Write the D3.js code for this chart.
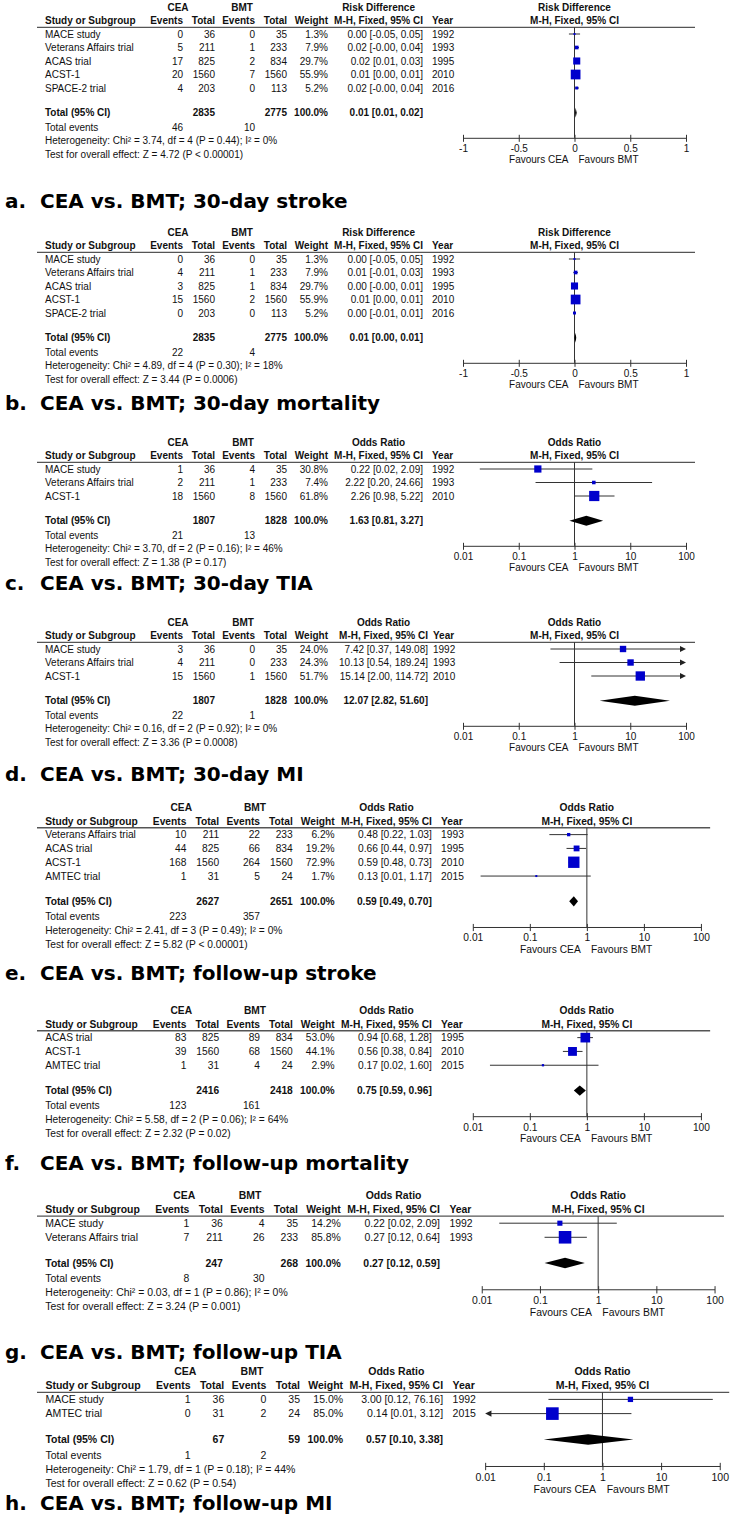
<!DOCTYPE html>
<html><head><meta charset="utf-8">
<script src="https://cdn.jsdelivr.net/npm/d3@7/dist/d3.min.js"></script>
<style>
html,body{margin:0;padding:0;background:#fff;}
svg{display:block;}
</style></head><body>
<svg id="chart" width="736" height="1533"></svg>
<script>
// ---------------- DATA ----------------
const panelLetters = ["a.","b.","c.","d.","e.","f.","g.","h."];
const panelTitles = ["CEA vs. BMT; 30-day stroke","CEA vs. BMT; 30-day mortality","CEA vs. BMT; 30-day TIA","CEA vs. BMT; 30-day MI","CEA vs. BMT; follow-up stroke","CEA vs. BMT; follow-up mortality","CEA vs. BMT; follow-up TIA","CEA vs. BMT; follow-up MI"];
const measures = ["Risk Difference","Risk Difference","Odds Ratio","Odds Ratio","Odds Ratio","Odds Ratio","Odds Ratio","Odds Ratio"];
const rdTicks = [-1,-0.5,0,0.5,1];
const orTicks = [0.01,0.1,1,10,100];

// rows: study, CEA events, CEA total, BMT events, BMT total, weight %, estimate, lower, upper, year
const studiesA = [
  ["MACE study",0,36,0,35,1.3,0.00,-0.05,0.05,1992],
  ["Veterans Affairs trial",5,211,1,233,7.9,0.02,-0.002,0.04,1993],
  ["ACAS trial",17,825,2,834,29.7,0.02,0.01,0.03,1995],
  ["ACST-1",20,1560,7,1560,55.9,0.01,0.00,0.01,2010],
  ["SPACE-2 trial",4,203,0,113,5.2,0.02,-0.002,0.04,2016]
];
const studiesB = [
  ["MACE study",0,36,0,35,1.3,0.00,-0.05,0.05,1992],
  ["Veterans Affairs trial",4,211,1,233,7.9,0.01,-0.01,0.03,1993],
  ["ACAS trial",3,825,1,834,29.7,0.00,-0.002,0.01,1995],
  ["ACST-1",15,1560,2,1560,55.9,0.01,0.00,0.01,2010],
  ["SPACE-2 trial",0,203,0,113,5.2,0.00,-0.01,0.01,2016]
];
const studiesC = [
  ["MACE study",1,36,4,35,30.8,0.22,0.02,2.09,1992],
  ["Veterans Affairs trial",2,211,1,233,7.4,2.22,0.20,24.66,1993],
  ["ACST-1",18,1560,8,1560,61.8,2.26,0.98,5.22,2010]
];
const studiesD = [
  ["MACE study",3,36,0,35,24.0,7.42,0.37,149.08,1992],
  ["Veterans Affairs trial",4,211,0,233,24.3,10.13,0.54,189.24,1993],
  ["ACST-1",15,1560,1,1560,51.7,15.14,2.00,114.72,2010]
];
const studiesE = [
  ["Veterans Affairs trial",10,211,22,233,6.2,0.48,0.22,1.03,1993],
  ["ACAS trial",44,825,66,834,19.2,0.66,0.44,0.97,1995],
  ["ACST-1",168,1560,264,1560,72.9,0.59,0.48,0.73,2010],
  ["AMTEC trial",1,31,5,24,1.7,0.13,0.0137,1.17,2015]
];
const studiesF = [
  ["ACAS trial",83,825,89,834,53.0,0.94,0.68,1.28,1995],
  ["ACST-1",39,1560,68,1560,44.1,0.56,0.38,0.84,2010],
  ["AMTEC trial",1,31,4,24,2.9,0.17,0.02,1.60,2015]
];
const studiesG = [
  ["MACE study",1,36,4,35,14.2,0.22,0.02,2.09,1992],
  ["Veterans Affairs trial",7,211,26,233,85.8,0.27,0.12,0.64,1993]
];
const studiesH = [
  ["MACE study",1,36,0,35,15.0,3.00,0.12,76.16,1992],
  ["AMTEC trial",0,31,2,24,85.0,0.14,0.0066,3.12,2015]
];
const totalCeaN = [2835,2835,1807,1807,2627,2416,247,67];
const totalBmtN = [2775,2775,1828,1828,2651,2418,268,59];
const totalEst  = [0.01,0.01,1.63,12.07,0.59,0.75,0.27,0.57];
const totalLo   = [0.01,0.00,0.81,2.82,0.49,0.59,0.12,0.10];
const totalHi   = [0.02,0.01,3.27,51.60,0.70,0.96,0.59,3.38];
const totalCeaEv = [46,22,21,22,223,123,8,1];
const totalBmtEv = [10,4,13,1,357,161,30,2];
const hetChi = ["3.74","4.89","3.70","0.16","2.41","5.58","0.03","1.79"];
const hetDf  = [4,4,2,2,3,2,1,1];
const hetP   = ["0.44","0.30","0.16","0.92","0.49","0.06","0.86","0.18"];
const hetI2  = [0,18,46,0,0,64,0,44];
const zVal   = ["4.72","3.44","1.38","3.36","5.82","2.32","3.24","0.62"];
const zP     = ["< 0.00001","= 0.0006","= 0.17","= 0.0008","< 0.00001","= 0.02","= 0.001","= 0.54"];

const allStudies = [studiesA,studiesB,studiesC,studiesD,studiesE,studiesF,studiesG,studiesH];

// ---------------- LAYOUT ----------------
const layout = [
  {hy:7,    s:1,     ci:423, yr:432, bmtC:242, ty:208},
  {hy:232,  s:1,     ci:423, yr:432, bmtC:242, ty:410},
  {hy:442,  s:1,     ci:423, yr:432, bmtC:243, ty:590},
  {hy:622,  s:1,     ci:428, yr:433, bmtC:243, ty:781},
  {hy:807,  s:1.023, ci:423, yr:432, bmtC:255, ty:980},
  {hy:1010, s:1.023, ci:423, yr:432, bmtC:255, ty:1170},
  {hy:1195, s:1.044, ci:423, yr:432, bmtC:250, ty:1359},
  {hy:1371, s:1.052, ci:423, yr:432, bmtC:252, ty:1510}
];
const FONT = "'Liberation Sans', Arial, sans-serif";
const svg = d3.select("#chart");
svg.append("rect").attr("width",736).attr("height",1533).attr("fill","#fff");

function drawPanel(k){
  const L = layout[k], s = L.s, rows = allStudies[k];
  const X = v => 37 + s*(v-37);
  const Y = v => L.hy + s*v;
  const g = svg.append("g");
  const fs = 10*s;
  function t(x,y,str,anchor,bold){
    return g.append("text").attr("x",x).attr("y",y).attr("dy","0.36em")
      .attr("text-anchor",anchor||"start").attr("font-family",FONT)
      .attr("font-size",fs).attr("font-weight",bold?"bold":"normal")
      .attr("fill","#111").text(str);
  }
  const f2 = v => v.toFixed(2);
  // headers
  t(X(178),Y(0),"CEA","middle",true);
  t(L.bmtC,Y(0),"BMT","middle",true);
  const h2 = 13.7;
  t(X(45),Y(h2),"Study or Subgroup","start",true);
  t(X(183),Y(h2),"Events","end",true);
  t(X(215),Y(h2),"Total","end",true);
  t(X(255),Y(h2),"Events","end",true);
  t(X(287),Y(h2),"Total","end",true);
  t(X(328),Y(h2),"Weight","end",true);
  const mh = t(X(L.ci),Y(h2),"M-H, Fixed, 95% CI","end",true);
  const mhW = mh.node().getComputedTextLength();
  t(X(L.ci)-mhW/2,Y(0),measures[k],"middle",true);
  t(X(L.yr),Y(h2),"Year","start",true);

  const px0 = X(463), px1 = X(686);
  const isOR = measures[k] === "Odds Ratio";
  const sc = isOR ? d3.scaleLog().domain([0.01,100]).range([px0,px1])
                  : d3.scaleLinear().domain([-1,1]).range([px0,px1]);
  const [dmin,dmax] = sc.domain();
  const pc = sc(isOR ? 1 : 0);
  t(pc,Y(0),measures[k],"middle",true);
  t(pc,Y(h2),"M-H, Fixed, 95% CI","middle",true);

  g.append("line").attr("x1",X(37)).attr("x2",X(695)).attr("y1",Y(20.3)).attr("y2",Y(20.3))
    .attr("stroke","#555").attr("stroke-width",1.3);

  const n = rows.length;
  const yT = Y(27 + 13.5*(n-1) + 24.7);
  const yE = yT + 14.6*s;
  const yH = yE + 13.5*s;
  const yZ = yH + 13.5*s;
  const yA = yH - 3*s;

  // null line
  g.append("line").attr("x1",pc).attr("x2",pc).attr("y1",Y(20.3)).attr("y2",yA)
    .attr("stroke","#333").attr("stroke-width",1);

  rows.forEach((r,i) => {
    const y = Y(27 + 13.5*i);
    t(X(45),y,r[0]);
    t(X(183),y,r[1],"end");
    t(X(215),y,r[2],"end");
    t(X(255),y,r[3],"end");
    t(X(287),y,r[4],"end");
    t(X(328),y,r[5].toFixed(1)+"%","end");
    t(X(L.ci),y,`${f2(r[6])} [${f2(r[7])}, ${f2(r[8])}]`,"end");
    t(X(L.yr),y,r[9]);
    const xl = sc(Math.max(r[7],dmin)), xr = sc(Math.min(r[8],dmax));
    const aL = r[7] < dmin, aR = r[8] > dmax;
    g.append("line").attr("x1",aL?xl+5*s:xl).attr("x2",aR?xr-5*s:xr).attr("y1",y).attr("y2",y)
      .attr("stroke","#333").attr("stroke-width",1);
    if (aR) g.append("path").attr("d",`M${xr},${y}L${xr-6*s},${y-3*s}L${xr-6*s},${y+3*s}Z`).attr("fill","#222");
    if (aL) g.append("path").attr("d",`M${xl},${y}L${xl+6*s},${y-3*s}L${xl+6*s},${y+3*s}Z`).attr("fill","#222");
    const side = Math.max(2, 1.3*Math.sqrt(r[5])*s);
    g.append("rect").attr("x",sc(r[6])-side/2).attr("y",y-side/2).attr("width",side).attr("height",side)
      .attr("fill","#0000cc");
  });

  // total
  t(X(45),yT,"Total (95% CI)","start",true);
  t(X(215),yT,totalCeaN[k],"end",true);
  t(X(287),yT,totalBmtN[k],"end",true);
  t(X(328),yT,"100.0%","end",true);
  t(X(L.ci),yT,`${f2(totalEst[k])} [${f2(totalLo[k])}, ${f2(totalHi[k])}]`,"end",true);
  const dh = 5*s;
  const xl = sc(totalLo[k]), xr = sc(totalHi[k]), xm = sc(totalEst[k]);
  g.append("path").attr("d",`M${Math.min(xl,xm-0.6)},${yT}L${xm},${yT-dh}L${Math.max(xr,xm+0.6)},${yT}L${xm},${yT+dh}Z`)
    .attr("fill","#000");

  t(X(45),yE,"Total events");
  t(X(183),yE,totalCeaEv[k],"end");
  t(X(255),yE,totalBmtEv[k],"end");
  t(X(45),yH,`Heterogeneity: Chi\u00B2 = ${hetChi[k]}, df = ${hetDf[k]} (P = ${hetP[k]}); I\u00B2 = ${hetI2[k]}%`);
  t(X(45),yZ,`Test for overall effect: Z = ${zVal[k]} (P ${zP[k]})`);

  // axis
  const axis = d3.axisBottom(sc).tickValues(isOR ? orTicks : rdTicks)
    .tickFormat(d => String(d)).tickSizeInner(4*s).tickSizeOuter(0).tickPadding(3*s);
  const ag = g.append("g").attr("transform",`translate(0,${yA})`).call(axis);
  ag.select(".domain").attr("stroke","#333");
  ag.selectAll(".tick line").attr("stroke","#333").attr("y1",-3*s).attr("y2",4*s);
  ag.selectAll(".tick text").attr("font-family",FONT).attr("font-size",fs).attr("fill","#111");

  const yF = yA + 22*s;
  t(pc-6*s,yF,"Favours CEA","end");
  t(pc+4*s,yF,"Favours BMT","start");

  // panel title
  svg.append("text").attr("x",5).attr("y",L.ty).attr("font-family","'DejaVu Sans', sans-serif")
    .attr("font-weight","bold").attr("font-size",20).attr("fill","#000").text(panelLetters[k]);
  svg.append("text").attr("x",40).attr("y",L.ty).attr("font-family","'DejaVu Sans', sans-serif")
    .attr("font-weight","bold").attr("font-size",20).attr("fill","#000").text(panelTitles[k]);
}

for (let k = 0; k < 8; k++) drawPanel(k);
</script>
</body></html>
